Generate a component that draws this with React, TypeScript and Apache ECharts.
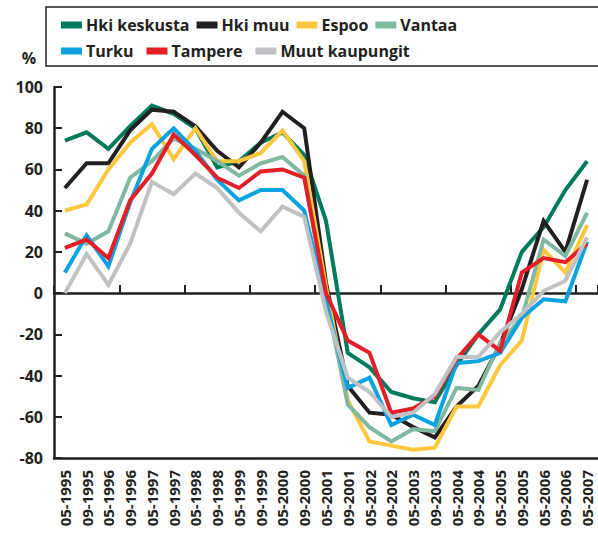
import React, { useEffect, useRef } from "react";
import * as echarts from "echarts";

const categories = ["05-1995","09-1995","05-1996","09-1996","05-1997","09-1997","05-1998","09-1998","05-1999","09-1999","05-2000","09-2000","05-2001","09-2001","05-2002","09-2002","05-2003","09-2003","05-2004","09-2004","05-2005","09-2005","05-2006","09-2006","05-2007"];

const hkiKeskusta = [74, 78, 70, 81, 91, 87, 80, 61, 64, 73, 78, 67, 35, -29, -36, -48, -51, -53, -35, -20, -8, 20, 32, 50, 64];
const hkiMuu = [51, 63, 63, 79, 89, 88, 81, 69, 61, 73, 88, 80, 5, -45, -58, -59, -65, -70, -55, -45, -25, 2, 35, 20, 55];
const espoo = [40, 43, 60, 73, 82, 65, 80, 64, 64, 68, 79, 64, 3, -52, -72, -74, -76, -75, -55, -55, -35, -23, 21, 10, 33];
const vantaa = [29, 24, 30, 56, 64, 75, 70, 64, 57, 63, 66, 57, -2, -54, -65, -72, -66, -67, -46, -47, -24, -12, 26, 18, 39];
const turku = [10, 28, 13, 44, 70, 80, 69, 55, 45, 50, 50, 40, -4, -46, -41, -64, -59, -64, -34, -33, -29, -12, -3, -4, 25];
const tampere = [22, 26, 17, 45, 58, 77, 67, 56, 51, 59, 60, 56, 0, -23, -29, -58, -56, -50, -32, -20, -28, 10, 17, 15, 24];
const muutKaupungit = [0, 19, 4, 24, 54, 48, 58, 51, 39, 30, 42, 37, -9, -41, -48, -60, -58, -49, -31, -31, -19, -10, 1, 6, 27];

const seriesNames = ["Hki keskusta", "Hki muu", "Espoo", "Vantaa", "Turku", "Tampere", "Muut kaupungit"];
const seriesColors = ["#007a5c", "#231f20", "#fdc83e", "#80b8a0", "#0aa3e0", "#e31e26", "#c0c1c5"];
const seriesData = [hkiKeskusta, hkiMuu, espoo, vantaa, turku, tampere, muutKaupungit];

const yTicks = { min: -80, max: 100, interval: 20 };

const FONT = "Open Sans";
const INK = "#231f20";

export default function App() {
  const ref = useRef<HTMLDivElement>(null);
  useEffect(() => {
    if (!ref.current) return;
    const chart = echarts.init(ref.current, null, { renderer: "svg" });
    const textStyle = { fontFamily: FONT, fontWeight: "bold" as const, fontSize: 16, color: INK };
    chart.setOption({
      animation: false,
      backgroundColor: "#ffffff",
      grid: { left: 54, right: -8, top: 87, bottom: 78 },
      legend: [
        {
          data: seriesNames.slice(0, 4),
          left: 56, top: 12,
          itemWidth: 21, itemHeight: 7, itemGap: 7,
          icon: "rect",
          textStyle: { ...textStyle, fontSize: 16, padding: [0, 0, 0, -1] },
          selectedMode: false,
        },
        {
          data: seriesNames.slice(4),
          left: 56, top: 38,
          itemWidth: 21, itemHeight: 7, itemGap: 13,
          icon: "rect",
          textStyle: { ...textStyle, fontSize: 16, padding: [0, 0, 0, -1] },
          selectedMode: false,
        },
      ],
      graphic: [
        {
          type: "rect",
          shape: { x: 46, y: 7, width: 600, height: 59 },
          style: { fill: "none", stroke: INK, lineWidth: 1.5 },
          silent: true,
        },
        {
          type: "text",
          x: 29, y: 58,
          style: { text: "%", fontFamily: FONT, fontWeight: "bold", fontSize: 16, fill: INK, align: "center", verticalAlign: "middle" },
        },
      ],
      xAxis: [
        {
          type: "category",
          data: categories,
          position: "bottom",
          axisLine: { onZero: true, lineStyle: { color: INK, width: 2.5 } },
          axisTick: { show: true, inside: true, length: 8, lineStyle: { color: INK, width: 2 } },
          axisLabel: { show: false },
          splitLine: { show: false },
        },
        {
          type: "category",
          data: categories,
          position: "bottom",
          axisLine: { onZero: false, lineStyle: { color: INK, width: 2.5 } },
          axisTick: { show: false },
          axisLabel: { interval: 0, rotate: 90, margin: 12, ...textStyle, fontSize: 15 },
          splitLine: { show: false },
        },
      ],
      yAxis: {
        type: "value",
        min: yTicks.min, max: yTicks.max, interval: yTicks.interval,
        axisLine: { show: true, lineStyle: { color: INK, width: 2.5 } },
        axisTick: { show: true, inside: true, length: 8, lineStyle: { color: INK, width: 2 } },
        axisLabel: { margin: 11, ...textStyle },
        splitLine: { show: false },
      },
      series: seriesNames.map((name, i) => ({
        name,
        type: "line",
        data: seriesData[i],
        xAxisIndex: 0,
        symbol: "none",
        color: seriesColors[i],
        lineStyle: { width: 4, color: seriesColors[i], join: "miter" },
        z: 2 + i,
      })),
    });
    return () => chart.dispose();
  }, []);
  return <div ref={ref} style={{ position: "fixed", left: 0, top: 0, width: 598, height: 536 }} />;
}
